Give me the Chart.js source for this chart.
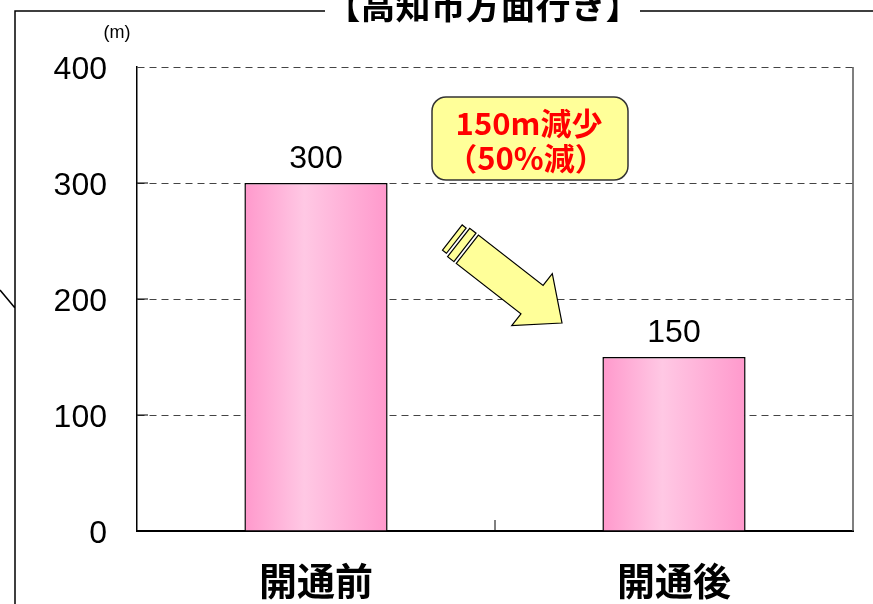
<!DOCTYPE html>
<html>
<head>
<meta charset="utf-8">
<script src="https://cdn.jsdelivr.net/npm/chart.js@4"></script>
<style>
  html, body { margin: 0; padding: 0; background: #fff; }
  #wrap { width: 873px; height: 604px; }
</style>
</head>
<body>
<div id="wrap"><canvas id="lengthChart" width="873" height="604"></canvas></div>
<script>
const categories = ["開通前", "開通後"];
const lengths = [300, 150];
const yTicks = [0, 100, 200, 300, 400];
const title = "【高知市方面行き】";
const unit = "(m)";
const noteLines = ["150m減少", "（50%減）"];

const jpFont = '"Noto Sans CJK JP", sans-serif';
const numFont = '"Liberation Sans", Arial, sans-serif';

function barGradient(c) {
    const chart = c.chart;
    if (!chart.chartArea || !chart.scales.x) return '#ffb0d8';
    const cx = chart.scales.x.getPixelForValue(c.dataIndex);
    const w = chart.chartArea.width / categories.length * 0.4;
    const g = chart.ctx.createLinearGradient(cx - w / 2, 0, cx + w / 2, 0);
    g.addColorStop(0, '#ff99cc');
    g.addColorStop(0.42, '#ffc8e4');
    g.addColorStop(1, '#ff99cc');
    return g;
}

const decor = {
    id: 'decor',
    afterDatasetsDraw(chart) {
        const ctx = chart.ctx;
        const a = chart.chartArea;
        const y = chart.scales.y;
        ctx.save();

        // outer frame pieces
        ctx.strokeStyle = '#000';
        ctx.lineWidth = 1.5;
        ctx.beginPath();
        ctx.moveTo(15, 604); ctx.lineTo(15, 11); ctx.lineTo(325, 11);
        ctx.moveTo(640, 11); ctx.lineTo(873, 11);
        ctx.moveTo(0, 290); ctx.lineTo(15, 308);
        ctx.stroke();

        // title
        ctx.fillStyle = '#000';
        ctx.font = 'bold 35px ' + jpFont;
        ctx.textAlign = 'center';
        ctx.textBaseline = 'alphabetic';
        ctx.fillText(title, 483, 19);

        // unit
        ctx.font = '18px ' + numFont;
        ctx.fillText(unit, 117, 38);

        // right border, inner ticks
        ctx.lineWidth = 1.5;
        ctx.strokeStyle = '#555';
        ctx.beginPath();
        ctx.moveTo(a.right, a.top); ctx.lineTo(a.right, a.bottom);
        ctx.stroke();
        ctx.strokeStyle = '#000';
        ctx.lineWidth = 1;
        ctx.beginPath();
        yTicks.slice(1, -1).forEach(v => {
            const py = y.getPixelForValue(v);
            ctx.moveTo(a.left, py); ctx.lineTo(a.left + 11, py);
        });
        const mid = (a.left + a.right) / 2;
        ctx.moveTo(mid, a.bottom); ctx.lineTo(mid, a.bottom - 11);
        ctx.stroke();

        // value labels
        ctx.fillStyle = '#000';
        ctx.font = '32px ' + numFont;
        ctx.textBaseline = 'bottom';
        chart.getDatasetMeta(0).data.forEach((bar, i) => {
            ctx.fillText(String(lengths[i]), bar.x, bar.y - 8);
        });

        // note box
        const bx = a.left + 295, by = a.top + 30, bw = 196, bh = 83;
        ctx.beginPath();
        ctx.roundRect(bx, by, bw, bh, 14);
        ctx.fillStyle = '#ffff99';
        ctx.fill();
        ctx.strokeStyle = '#333';
        ctx.lineWidth = 1.5;
        ctx.stroke();
        ctx.fillStyle = '#ff0000';
        ctx.font = 'bold 31px ' + jpFont;
        ctx.textBaseline = 'middle';
        ctx.fillText(noteLines[0], bx + bw / 2 - 1, by + 26);
        ctx.fillText(noteLines[1], bx + bw / 2 - 4, by + 61);

        // arrow
        const tx = a.left + 425, ty = a.top + 256;
        const ang = Math.atan2(74, 95);
        const cs = Math.cos(ang), sn = Math.sin(ang);
        const P = (u, v) => [tx - u * cs - v * sn, ty - u * sn + v * cs];
        const poly = pts => {
            ctx.beginPath();
            pts.forEach((p, i) => { const q = P(p[0], p[1]); i ? ctx.lineTo(q[0], q[1]) : ctx.moveTo(q[0], q[1]); });
            ctx.closePath();
            ctx.fillStyle = '#ffff99';
            ctx.fill();
            ctx.strokeStyle = '#000';
            ctx.lineWidth = 1.2;
            ctx.stroke();
        };
        poly([[0, 0], [38, 33], [38, 18], [120, 18], [120, -18], [38, -18], [38, -33]]);
        poly([[123, 18], [131, 18], [131, -18], [123, -18]]);
        poly([[134, 16], [139, 16], [139, -16], [134, -16]]);

        ctx.restore();
    }
};

new Chart(document.getElementById('lengthChart'), {
    type: 'bar',
    data: {
        labels: categories,
        datasets: [{
            data: lengths,
            backgroundColor: barGradient,
            borderColor: '#000',
            borderWidth: 1.5,
            borderSkipped: 'bottom',
            barPercentage: 0.4,
            categoryPercentage: 1
        }]
    },
    options: {
        responsive: false,
        animation: false,
        layout: { padding: { top: 67, right: 20, left: 0, bottom: 0 } },
        plugins: {
            legend: { display: false },
            tooltip: { enabled: false }
        },
        scales: {
            x: {
                grid: { display: false, drawTicks: false },
                border: { color: '#000', width: 2 },
                ticks: {
                    color: '#000',
                    padding: 27,
                    font: { family: jpFont, size: 38, weight: 'bold' }
                },
                afterFit: s => { s.height = 73; }
            },
            y: {
                min: 0,
                max: 400,
                afterBuildTicks: s => { s.ticks = yTicks.map(v => ({ value: v })); },
                grid: {
                    drawTicks: false,
                    color: c => c.tick && c.tick.value === 0 ? 'rgba(0,0,0,0)' : '#444',
                    lineWidth: 1
                },
                border: { color: '#000', width: 1.5, dash: [7, 5] },
                ticks: {
                    color: '#000',
                    padding: 30,
                    labelOffset: 3,
                    font: { family: numFont, size: 32 }
                },
                afterFit: s => { s.width = 137; }
            }
        }
    },
    plugins: [decor]
});
</script>
</body>
</html>
